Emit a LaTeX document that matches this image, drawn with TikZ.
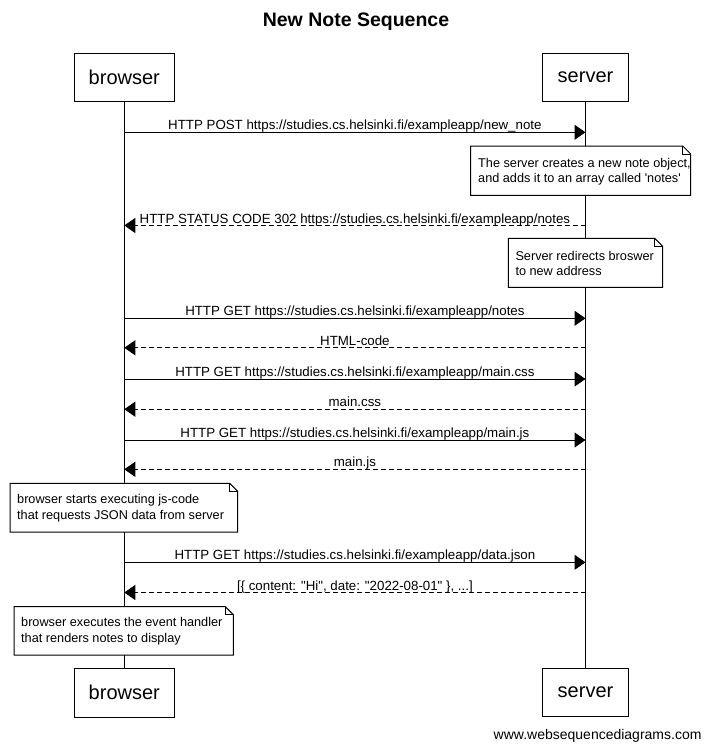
\documentclass[tikz,border=0pt]{standalone}
\usepackage{fontspec}
\newfontfamily\wsdfont{Liberation Sans}
\usetikzlibrary{arrows.meta,positioning}

% note outline with folded corner: x1, y1, x2, y2
\newcommand{\notefold}[4]{%
    \filldraw[notebox] (#1,#2) -- (#3-8,#2) -- (#3,#2+8) -- (#3,#4) -- (#1,#4) -- cycle;
    \draw[line width=1pt] (#3-8,#2) -- (#3-8,#2+8) -- (#3,#2+8);
}

\begin{document}
\begin{tikzpicture}[
    x=1pt, y=-1pt,
    >={Triangle[length=11pt, width=15pt]},
    every node/.style={font=\wsdfont},
    actor/.style={draw, line width=1pt, minimum width=#1, minimum height=48.5pt,
                  inner sep=0pt, font=\wsdfont\fontsize{20}{24}\selectfont},
    msg/.style={->, line width=1pt},
    reply/.style={->, line width=1pt, dash pattern=on 5pt off 3pt},
    lbl/.style={anchor=base, yshift=2.5pt, inner sep=0pt,
                font=\wsdfont\fontsize{13.3}{16}\selectfont},
    note/.style={anchor=west, align=left, inner sep=0pt,
                 font=\wsdfont\fontsize{12.7}{15.5}\selectfont},
    notebox/.style={line width=1pt, fill=white}
]
    \useasboundingbox (0,0) rectangle (710,752);

    % === TITLE ===
    \node[font=\wsdfont\bfseries\fontsize{19.5}{23}\selectfont] (title) at (356,22) {New Note Sequence};

    % === ACTORS ===
    \node[actor=100.5pt] (bt) at (124.3,77.3) {browser};
    \node[actor=86pt] (st) at (585.5,77.3) {server};
    \node[actor=100.5pt] (bb) at (124.3,692.8) {browser};
    \node[actor=86pt] (sb) at (585.5,692.5) {server};

    % Lifelines
    \draw[line width=1pt] (bt.south) -- (bb.north);
    \draw[line width=1pt] (st.south) -- (sb.north);

    % Message rows on both lifelines
    \foreach \y [count=\i] in {132.3, 225.5, 318.3, 347.8, 379, 409.2, 440, 469.3, 562.3, 592.5} {
        \coordinate (b\i) at (bt |- 0,\y);
        \coordinate (s\i) at (st |- 0,\y);
    }

    % === FORM SUBMIT ===
    \draw[msg] (b1) -- node[lbl] {HTTP POST https://studies.cs.helsinki.fi/exampleapp/new\_note} (s1);

    \notefold{470.7}{146}{690.7}{195.3}
    \node[note] (n1) at (478,171.5) {The server creates a new note object,\\and adds it to an array called 'notes'};

    \draw[reply] (s2) -- node[lbl] {HTTP STATUS CODE 302 https://studies.cs.helsinki.fi/exampleapp/notes} (b2);

    \notefold{508.3}{238.3}{662.7}{287.3}
    \node[note] (n2) at (515.3,263.5) {Server redirects broswer\\to new address};

    % === PAGE RELOAD ===
    \draw[msg] (b3) -- node[lbl] {HTTP GET https://studies.cs.helsinki.fi/exampleapp/notes} (s3);
    \draw[reply] (s4) -- node[lbl] {HTML-code} (b4);
    \draw[msg] (b5) -- node[lbl] {HTTP GET https://studies.cs.helsinki.fi/exampleapp/main.css} (s5);
    \draw[reply] (s6) -- node[lbl] {main.css} (b6);
    \draw[msg] (b7) -- node[lbl] {HTTP GET https://studies.cs.helsinki.fi/exampleapp/main.js} (s7);
    \draw[reply] (s8) -- node[lbl] {main.js} (b8);

    \notefold{10}{483.3}{237.7}{532}
    \node[note] (n3) at (17,508) {browser starts executing js-code\\that requests JSON data from server};

    % === DATA FETCH ===
    \draw[msg] (b9) -- node[lbl] {HTTP GET https://studies.cs.helsinki.fi/exampleapp/data.json} (s9);
    \draw[reply] (s10) -- node[lbl] {[\{ content: "Hi", date: "2022-08-01" \}, ...]} (b10);

    \notefold{14}{606.7}{233.3}{655}
    \node[note] (n4) at (21,631) {browser executes the event handler\\that renders notes to display};

    % Watermark
    \node[anchor=east, inner sep=0pt, font=\wsdfont\fontsize{14}{16}\selectfont] (wsd) at (701.7,736) {www.websequencediagrams.com};
\end{tikzpicture}
\end{document}
